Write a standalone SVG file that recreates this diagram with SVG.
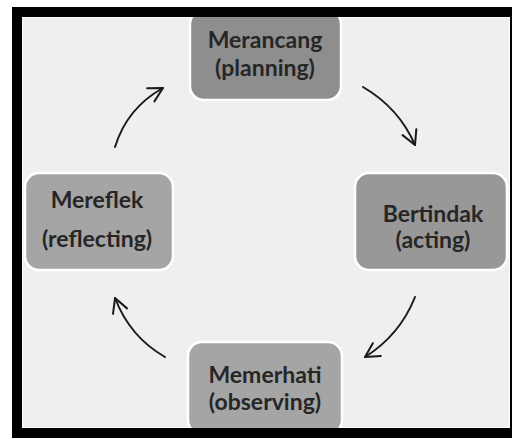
<svg xmlns="http://www.w3.org/2000/svg" width="515" height="439" viewBox="0 0 515 439">
  <style>
    .node rect { stroke: #ffffff; stroke-width: 2.5; }
    .lbl { font-family: Lato, "Liberation Sans", sans-serif; font-weight: bold; font-size: 23px; fill: #262626; text-anchor: middle; }
    .conn path { fill: none; stroke: #1a1a1a; stroke-width: 2; stroke-linecap: round; }
  </style>
  <defs>
    <marker id="arr" markerUnits="userSpaceOnUse" markerWidth="24" markerHeight="24" viewBox="-20 -12 24 24" refX="0" refY="0" orient="auto">
      <path d="M -14 -7.5 L 0 0 L -14 7.5" fill="none" stroke="#1a1a1a" stroke-width="2" stroke-linecap="round" stroke-linejoin="round"/>
    </marker>
  </defs>
  <rect x="0" y="0" width="515" height="439" fill="#ffffff"/>
  <rect x="22" y="17" width="488" height="411" fill="#efefef" stroke="#ffffff" stroke-width="1.5"/>

  <g class="conn">
    <path d="M 115 147 Q 127 108 163 88" marker-end="url(#arr)"/>
    <path d="M 363 87 Q 399 108 415 145" marker-end="url(#arr)"/>
    <path d="M 415 297 Q 400 335 365 357" marker-end="url(#arr)"/>
    <path d="M 165 357 Q 130 337 115 298" marker-end="url(#arr)"/>
  </g>

  <g id="node-merancang" class="node">
    <rect x="190" y="10" width="151" height="90" rx="14" fill="#8e8e8e"/>
    <text class="lbl" x="265" y="48">Merancang</text>
    <text class="lbl" x="265" y="76">(planning)</text>
  </g>
  <g id="node-bertindak" class="node">
    <rect x="355" y="173" width="152" height="97" rx="14" fill="#989898"/>
    <text class="lbl" x="433" y="222">Bertindak</text>
    <text class="lbl" x="433" y="248">(acting)</text>
  </g>
  <g id="node-memerhati" class="node">
    <rect x="188" y="342" width="154" height="92" rx="14" fill="#a5a5a5"/>
    <text class="lbl" x="265" y="383">Memerhati</text>
    <text class="lbl" x="265" y="410">(observing)</text>
  </g>
  <g id="node-mereflek" class="node">
    <rect x="25" y="173" width="148" height="97" rx="14" fill="#a5a5a5"/>
    <text class="lbl" x="97" y="208">Mereflek</text>
    <text class="lbl" x="97" y="247">(reflecting)</text>
  </g>

  <path d="M 12 7 H 512 V 438 H 12 Z M 22 17 V 428 H 510 V 17 Z" fill="#000000" fill-rule="evenodd"/>
</svg>
